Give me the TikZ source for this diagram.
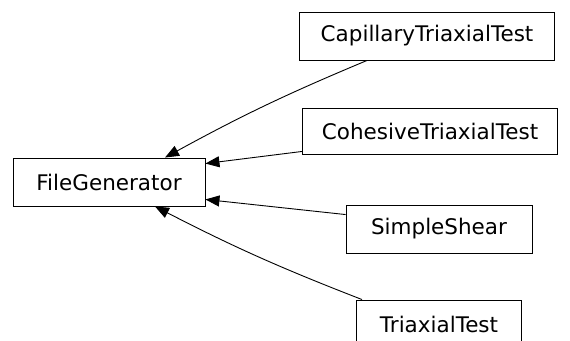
\documentclass[tikz,border=0pt]{standalone}
\usepackage{fontspec}
\setmainfont{DejaVu Sans}
\usetikzlibrary{positioning, arrows.meta}

\begin{document}
\begin{tikzpicture}[>={Triangle[length=14pt,width=11pt]},node distance=96pt,on grid,x=1pt,y=1pt]
\tikzstyle{cls}=[rectangle,draw,line width=0.9pt,minimum height=48pt,inner sep=0pt,font=\fontsize{21.5}{25}\selectfont]

\useasboundingbox (0,0) rectangle (570,-340);

%-- Base class --
\node[cls, minimum width=192pt] (filegen) at (109,-182) {FileGenerator};

%-- Derived classes --
\node[cls, minimum width=255pt] (capillary) [above right=146pt and 318pt of filegen] {CapillaryTriaxialTest};
\node[cls, minimum width=255pt, minimum height=46pt] (cohesive) [below=95pt of capillary, xshift=3pt] {CohesiveTriaxialTest};
\node[cls, minimum width=186pt] (simple) [below=98pt of cohesive, xshift=9pt] {SimpleShear};
\node[cls, minimum width=165pt] (triaxial) [below=95pt of simple] {TriaxialTest};

%-- Inheritance --
\path[->, line width=0.9pt]
  % CapillaryTriaxialTest
  ([xshift=68pt]capillary.south west) edge[bend right=3] ([xshift=56pt]filegen.north)

  % CohesiveTriaxialTest
  ([yshift=3pt]cohesive.south west) edge ([yshift=-6pt]filegen.north east)

  % SimpleShear
  ([yshift=-10pt]simple.north west) edge ([yshift=7pt]filegen.south east)

  % TriaxialTest
  ([xshift=6pt]triaxial.north west) edge[bend left=3] ([xshift=46pt]filegen.south);

\end{tikzpicture}
\end{document}
